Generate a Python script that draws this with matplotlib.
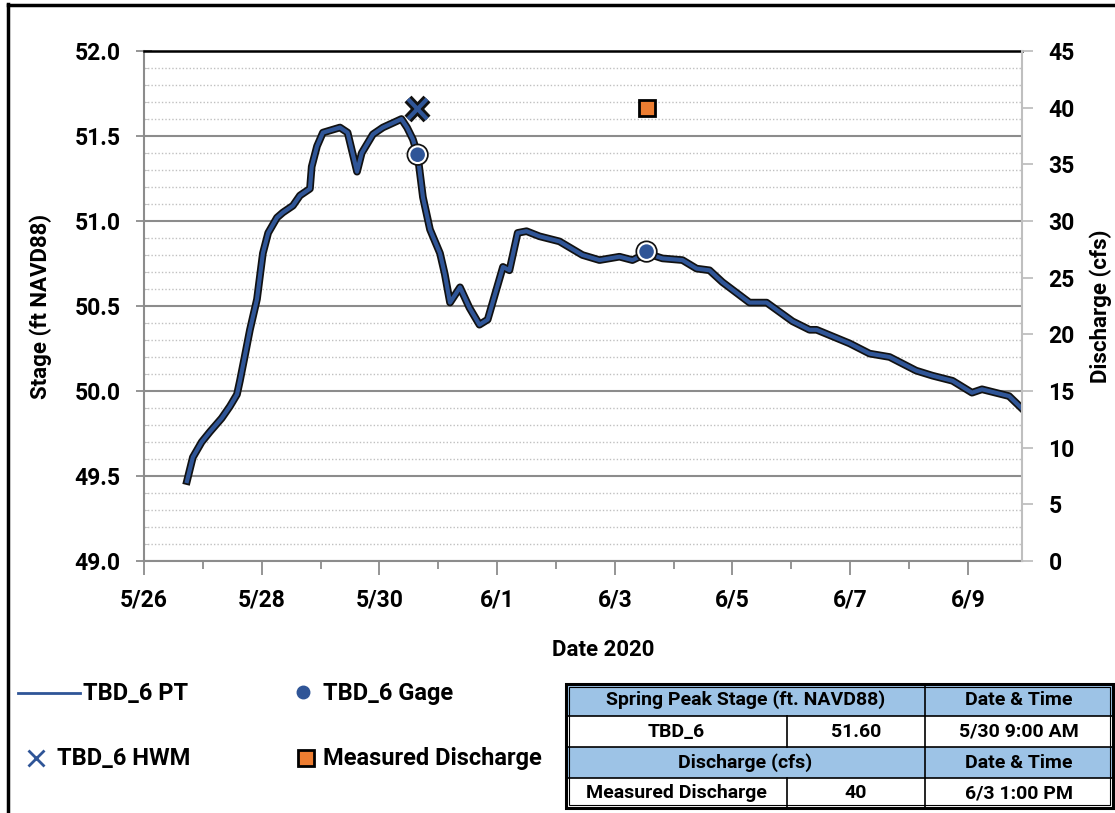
import pandas as pd
import matplotlib
matplotlib.use("Agg")
import matplotlib.pyplot as plt
import matplotlib.dates as mdates
import matplotlib.patheffects as pe
from matplotlib.ticker import MultipleLocator, FuncFormatter, FormatStrFormatter
from matplotlib.patches import Rectangle

plt.rcParams['font.family'] = ['Roboto', 'DejaVu Sans']
plt.rcParams['font.weight'] = 'bold'
plt.rcParams['axes.labelweight'] = 'bold'

start = pd.Timestamp("2020-05-26")

# TBD_6 pressure transducer: days after 5/26 00:00 and stage (ft NAVD88)
pt_days = [0.73, 0.83, 0.98, 1.12, 1.32, 1.46, 1.58, 1.63, 1.71, 1.80,
           1.92, 2.02, 2.11, 2.26, 2.36, 2.53, 2.65, 2.82, 2.85, 2.94,
           3.04, 3.33, 3.46, 3.62, 3.70, 3.89, 4.06, 4.375, 4.47, 4.57,
           4.65, 4.74, 4.86, 5.03, 5.11, 5.20, 5.37, 5.53, 5.70, 5.84,
           6.10, 6.21, 6.35, 6.50, 6.72, 7.06, 7.45, 7.74, 8.08, 8.30,
           8.54, 8.81, 9.15, 9.39, 9.61, 9.83, 10.29, 10.58, 11.02, 11.31,
           11.43, 11.99, 12.33, 12.67, 13.12, 13.40, 13.74, 14.07, 14.24, 14.70,
           14.91]
pt_stage = [49.47, 49.61, 49.70, 49.76, 49.84, 49.91, 49.98, 50.06, 50.20, 50.36,
            50.54, 50.81, 50.93, 51.02, 51.05, 51.09, 51.15, 51.19, 51.32, 51.44,
            51.52, 51.55, 51.52, 51.29, 51.40, 51.51, 51.55, 51.60, 51.55, 51.48,
            51.39, 51.14, 50.95, 50.81, 50.69, 50.52, 50.61, 50.49, 50.39, 50.42,
            50.73, 50.71, 50.93, 50.94, 50.91, 50.88, 50.80, 50.77, 50.79, 50.77,
            50.81, 50.78, 50.77, 50.72, 50.71, 50.64, 50.52, 50.52, 50.41, 50.36,
            50.36, 50.28, 50.22, 50.20, 50.12, 50.09, 50.06, 49.99, 50.01, 49.97,
            49.90]

gage_days = [4.65, 8.54]
gage_stage = [51.39, 50.82]
hwm_days = [4.65]
hwm_stage = [51.66]
q_days = [8.54]          # 6/3 1:00 PM
q_cfs = [40]

table_head1 = ["Spring Peak Stage (ft. NAVD88)", "Date & Time"]
table_row1 = ["TBD_6", "51.60", "5/30 9:00 AM"]
table_head2 = ["Discharge (cfs)", "Date & Time"]
table_row2 = ["Measured Discharge", "40", "6/3 1:00 PM"]


def to_time(days):
    return start + pd.to_timedelta(days, unit="D")


blue = "#2F5597"
orange = "#ED7D31"
glow = [pe.Stroke(linewidth=5.5, foreground="#111111"), pe.Normal()]

W, H = 1115, 813
fig = plt.figure(figsize=(W / 100, H / 100), dpi=100)

# page overlay in pixel units: frame, legend, summary table
ov = fig.add_axes([0, 0, 1, 1])
ov.set_xlim(0, W)
ov.set_ylim(H, 0)
ov.axis("off")
ov.plot([8, 8], [4, H], color="black", lw=2.5)
ov.plot([8, W], [5, 5], color="black", lw=2.5)

ax = fig.add_axes([144 / W, 1 - 561 / H, (1022 - 144) / W, (561 - 51) / H])
ax.plot(to_time(pt_days), pt_stage, color=blue, lw=3, path_effects=glow,
        solid_joinstyle="round", zorder=3)
ax.plot(to_time(hwm_days), hwm_stage, "x", color=blue, ms=14, mew=3,
        path_effects=[pe.Stroke(linewidth=7, foreground="#111111"), pe.Normal()], zorder=4)
ax.plot(to_time(gage_days), gage_stage, "o", color=blue, mec="white", mew=1.5, ms=12,
        path_effects=[pe.Stroke(linewidth=4, foreground="#111111"), pe.Normal()], zorder=4)

ax.set_ylim(49, 52)
ax.set_xlim(to_time(0), to_time(14.92))
ax.yaxis.set_major_locator(MultipleLocator(0.5))
ax.yaxis.set_minor_locator(MultipleLocator(0.1))
ax.yaxis.set_major_formatter(FormatStrFormatter("%.1f"))
ax.grid(which="major", axis="y", color="#8c8c8c", lw=1.5)
ax.grid(which="minor", axis="y", color="#c0c0c0", lw=1, ls=(0, (1, 1.5)))
ax.set_axisbelow(True)

major_dates = pd.date_range("2020-05-26", "2020-06-09", freq="2D")
minor_dates = pd.date_range("2020-05-26", "2020-06-09", freq="1D")
ax.set_xticks(mdates.date2num(major_dates))
ax.set_xticks(mdates.date2num(minor_dates), minor=True)
ax.xaxis.set_major_formatter(FuncFormatter(
    lambda v, pos: f"{mdates.num2date(v).month}/{mdates.num2date(v).day}"))

tick_fs = 16.5
ax.tick_params(axis="y", which="major", direction="inout", length=12, width=1.3,
               color="#8c8c8c", labelsize=tick_fs, pad=11)
ax.tick_params(axis="y", which="minor", direction="in", length=3, color="#c0c0c0")
ax.tick_params(axis="x", which="major", direction="out", length=10, width=1.3,
               color="#8c8c8c", labelsize=tick_fs, pad=10)
ax.tick_params(axis="x", which="minor", direction="out", length=6, width=1.3,
               color="#8c8c8c")
for side in ["left", "bottom"]:
    ax.spines[side].set_color("#8c8c8c")
    ax.spines[side].set_linewidth(1.5)
ax.spines["top"].set_color("black")
ax.spines["top"].set_linewidth(1.8)
ax.spines["right"].set_visible(False)

ax.set_ylabel("Stage (ft NAVD88)", fontsize=16, va="center")
ax.yaxis.set_label_coords(-0.118, 0.5)
ax.set_xlabel("Date 2020", fontsize=16, va="center")
ax.xaxis.set_label_coords(0.523, -0.175)

ax2 = ax.twinx()
ax2.plot(to_time(q_days), q_cfs, "s", color=orange, mec="black", mew=2, ms=12, zorder=4)
ax2.set_ylim(0, 45)
ax2.yaxis.set_major_locator(MultipleLocator(5))
ax2.tick_params(axis="y", direction="out", length=8, width=1.3, color="#bfbfbf",
                labelsize=tick_fs, pad=11)
for side in ["left", "top", "bottom"]:
    ax2.spines[side].set_visible(False)
ax2.spines["right"].set_color("#bfbfbf")
ax2.spines["right"].set_linewidth(1.5)
ax2.set_ylabel("Discharge (cfs)", fontsize=16, rotation=90, va="center")
ax2.yaxis.set_label_coords(1.09, 0.5)

# legend glyphs
lfs = 17
ov.plot([18, 80], [693, 693], color=blue, lw=2)
ov.text(83, 693, "TBD_6 PT", fontsize=lfs, va="center", ha="left")
ov.plot([303], [692], "o", color=blue, ms=9)
ov.text(323, 693, "TBD_6 Gage", fontsize=lfs, va="center", ha="left")
ov.plot([36], [758], "x", color=blue, ms=11, mew=2)
ov.text(57, 758, "TBD_6 HWM", fontsize=lfs, va="center", ha="left")
ov.plot([306], [758], "s", color=orange, mec="black", mew=2, ms=12)
ov.text(323, 758, "Measured Discharge", fontsize=lfs, va="center", ha="left")

# summary table
rows_y = [684, 716, 747, 778, 808]
cols_x = [566, 787, 925, 1113]
head_fill = "#9DC3E6"
tfs = 14
for r in (0, 2):
    ov.add_patch(Rectangle((cols_x[0], rows_y[r]), cols_x[3] - cols_x[0],
                           rows_y[r + 1] - rows_y[r], facecolor=head_fill, edgecolor="none"))
for y in rows_y:
    ov.plot([cols_x[0], cols_x[3]], [y, y], color="black", lw=1.2)
for r in range(4):
    xs = [cols_x[2]] if r in (0, 2) else [cols_x[1], cols_x[2]]
    for x in xs:
        ov.plot([x, x], [rows_y[r], rows_y[r + 1]], color="black", lw=1.2)
ov.add_patch(Rectangle((cols_x[0], rows_y[0]), cols_x[3] - cols_x[0], rows_y[4] - rows_y[0],
                       facecolor="none", edgecolor="black", lw=2.2))
ov.add_patch(Rectangle((cols_x[0] + 3, rows_y[0] + 3), cols_x[3] - cols_x[0] - 6,
                       rows_y[4] - rows_y[0] - 6, facecolor="none", edgecolor="black", lw=0.8))

for r, head in ((0, table_head1), (2, table_head2)):
    yc = (rows_y[r] + rows_y[r + 1]) / 2
    ov.text((cols_x[0] + cols_x[2]) / 2, yc, head[0], fontsize=tfs, ha="center", va="center")
    ov.text((cols_x[2] + cols_x[3]) / 2, yc, head[1], fontsize=tfs, ha="center", va="center")
for r, row in ((1, table_row1), (3, table_row2)):
    yc = (rows_y[r] + rows_y[r + 1]) / 2
    for c, txt in enumerate(row):
        ov.text((cols_x[c] + cols_x[c + 1]) / 2, yc, txt, fontsize=tfs, ha="center", va="center")

fig.savefig("out.png", dpi=100)
